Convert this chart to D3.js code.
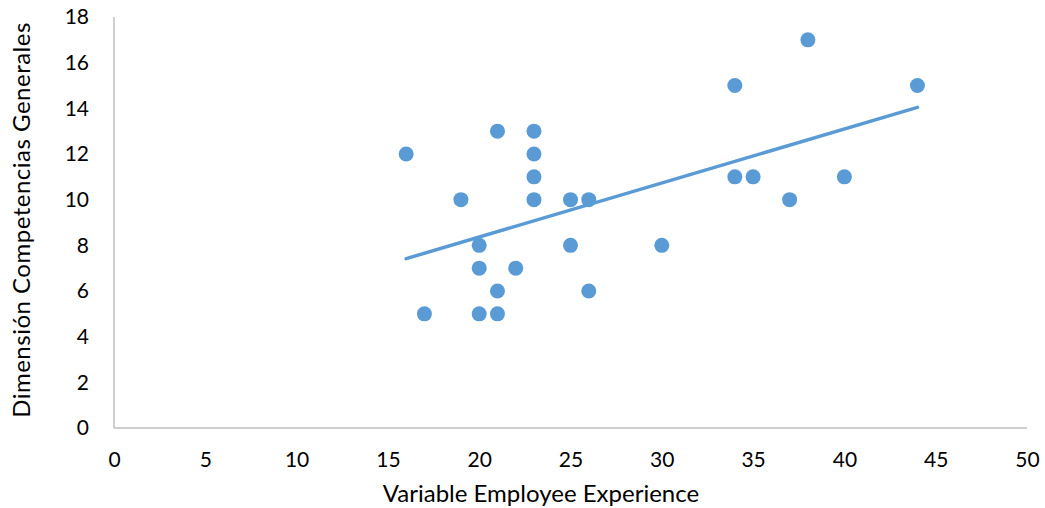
<!DOCTYPE html>
<html><head><meta charset="utf-8">
<script src="https://cdn.jsdelivr.net/npm/d3@7"></script>
<style>body{margin:0;background:#fff}svg{display:block}</style>
</head><body><svg id="c" width="1045" height="508"></svg>
<script>
const xValues = [16,17,19,20,20,20,21,21,21,22,23,23,23,23,25,25,26,26,30,34,34,35,37,38,40,44];
const yValues = [12,5,10,8,7,5,13,6,5,7,13,12,11,10,10,8,10,6,8,15,11,11,10,17,11,15];
const xTicks = [0,5,10,15,20,25,30,35,40,45,50];
const yTicks = [0,2,4,6,8,10,12,14,16,18];
const xTitle = "Variable Employee Experience";
const yTitle = "Dimensión Competencias Generales";

const svg = d3.select("#c");
const font = "Lato, 'Open Sans', sans-serif";
const color = "#5B9BD5";
const x = d3.scaleLinear().domain([0,50]).range([114,1027]);
const y = d3.scaleLinear().domain([0,18]).range([428,17]);

svg.append("line").attr("x1",x(0)).attr("x2",x(50)).attr("y1",y(0)).attr("y2",y(0)).attr("stroke","#bfbfbf").attr("stroke-width",1.5);
svg.append("line").attr("x1",x(0)).attr("x2",x(0)).attr("y1",y(0)).attr("y2",y(18)).attr("stroke","#bfbfbf").attr("stroke-width",1.5);

const xa = svg.append("g").attr("transform",`translate(0,${y(0)})`)
  .call(d3.axisBottom(x).tickValues(xTicks).tickSize(0).tickPadding(24).tickFormat(d3.format("d")));
xa.select(".domain").remove();
xa.selectAll("text").attr("font-family",font).attr("font-size",21).attr("fill","#000");

const ya = svg.append("g").attr("transform",`translate(${x(0)},0)`)
  .call(d3.axisLeft(y).tickValues(yTicks).tickSize(0).tickPadding(25).tickFormat(d3.format("d")));
ya.select(".domain").remove();
ya.selectAll("text").attr("font-family",font).attr("font-size",21).attr("fill","#000");

// trendline (least squares)
const n = xValues.length;
const mx = d3.mean(xValues), my = d3.mean(yValues);
let sxy=0, sxx=0;
for(let i=0;i<n;i++){sxy+=(xValues[i]-mx)*(yValues[i]-my); sxx+=(xValues[i]-mx)**2;}
const b = sxy/sxx, a = my - b*mx;
const xmin = d3.min(xValues), xmax = d3.max(xValues);
svg.append("line").attr("x1",x(xmin)).attr("y1",y(a+b*xmin)).attr("x2",x(xmax)).attr("y2",y(a+b*xmax))
  .attr("stroke",color).attr("stroke-width",3.5).attr("stroke-linecap","round");

svg.append("g").selectAll("circle").data(xValues.map((v,i)=>[v,yValues[i]])).join("circle")
  .attr("cx",d=>x(d[0])).attr("cy",d=>y(d[1])).attr("r",7.5).attr("fill",color);

svg.append("text").attr("x",541).attr("y",502).attr("text-anchor","middle")
  .attr("font-family",font).attr("font-size",24).text(xTitle);
svg.append("text").attr("transform","translate(30,220) rotate(-90)").attr("text-anchor","middle")
  .attr("font-family",font).attr("font-size",24).attr("letter-spacing",0.5).text(yTitle);
</script></body></html>
